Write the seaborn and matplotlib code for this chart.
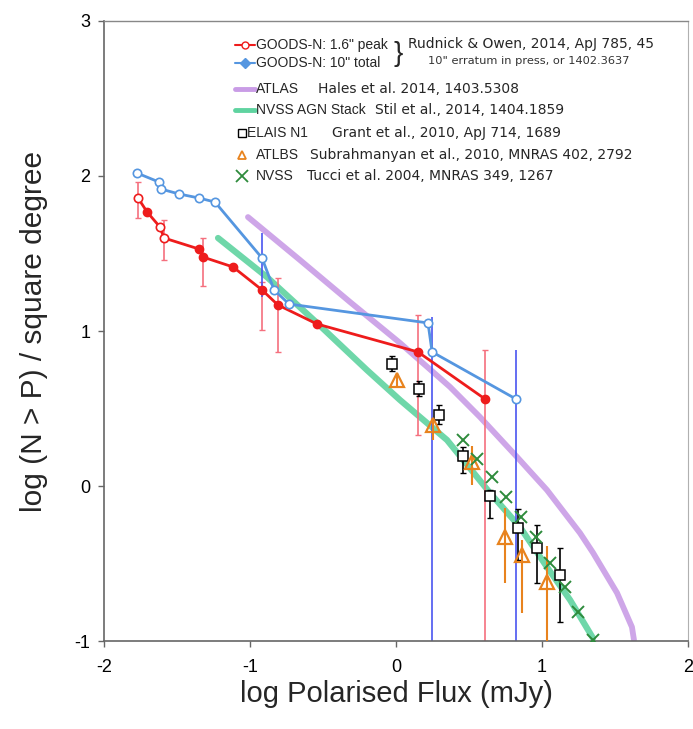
import numpy as np
import pandas as pd
import matplotlib
matplotlib.use("Agg")
import matplotlib.pyplot as plt
import seaborn as sns

sns.set_theme(style="white")
plt.rcParams['font.family'] = ['Liberation Sans', 'DejaVu Sans']

# GOODS-N 1.6" peak (red)
red_x = [-1.767, -1.705, -1.617, -1.589, -1.350, -1.322, -1.116, -0.918, -0.809, -0.541, 0.150, 0.610]
red_y = [1.858, 1.768, 1.671, 1.600, 1.529, 1.477, 1.413, 1.265, 1.168, 1.045, 0.865, 0.561]
red_open = [True, False, True, True, False, False, False, False, False, False, False, False]
red_err_x = [-1.767, -1.589, -1.322, -0.918, -0.809, 0.150, 0.610]
red_err_lo = [1.73, 1.458, 1.29, 1.006, 0.865, 0.329, -1.0]
red_err_hi = [1.96, 1.716, 1.60, 1.316, 1.342, 1.103, 0.877]

# GOODS-N 10" total (blue)
blue_x = [-1.774, -1.623, -1.610, -1.486, -1.350, -1.240, -0.918, -0.835, -0.733, 0.219, 0.247, 0.822]
blue_y = [2.019, 1.961, 1.916, 1.884, 1.858, 1.832, 1.471, 1.265, 1.174, 1.052, 0.865, 0.561]
blue_err_x = [-0.918, 0.247, 0.822]
blue_err_lo = [1.219, -1.0, -1.0]
blue_err_hi = [1.632, 1.09, 0.877]

# ATLAS (Hales et al.)
atlas_x = [-1.014, -0.658, -0.315, 0.027, 0.370, 0.575, 0.829, 1.034, 1.260, 1.349, 1.514, 1.616, 1.630]
atlas_y = [1.735, 1.458, 1.187, 0.923, 0.639, 0.445, 0.187, -0.026, -0.303, -0.430, -0.690, -0.910, -0.994]

# NVSS AGN stack (Stil et al.)
stil_x = [-1.219, -0.884, -0.541, -0.199, 0.027, 0.349, 0.644, 0.849, 1.034, 1.192, 1.349]
stil_y = [1.600, 1.348, 1.052, 0.748, 0.555, 0.297, -0.045, -0.265, -0.523, -0.735, -0.981]

# ELAIS N1 (Grant et al.)
elais_x = [-0.028, 0.157, 0.295, 0.459, 0.644, 0.836, 0.966, 1.123]
elais_y = [0.790, 0.626, 0.458, 0.194, -0.065, -0.271, -0.400, -0.574]
elais_lo = [0.74, 0.58, 0.40, 0.084, -0.206, -0.477, -0.626, -0.877]
elais_hi = [0.84, 0.68, 0.52, 0.252, -0.026, -0.148, -0.250, -0.400]

# ATLBS (Subrahmanyan et al.)
atlbs_x = [0.006, 0.255, 0.520, 0.746, 0.862, 1.034]
atlbs_y = [0.684, 0.394, 0.155, -0.329, -0.445, -0.619]
atlbs_lo = [0.64, 0.297, 0.006, -0.626, -0.819, -1.0]
atlbs_hi = [0.73, 0.430, 0.260, -0.142, -0.348, -0.390]

# NVSS (Tucci et al.)
tucci_x = [0.459, 0.554, 0.658, 0.753, 0.856, 0.959, 1.055, 1.157, 1.247, 1.349]
tucci_y = [0.297, 0.174, 0.058, -0.071, -0.200, -0.329, -0.497, -0.652, -0.813, -0.994]

xticks = [-2, -1, 0, 1, 2]
yticks = [-1, 0, 1, 2, 3]

RED = '#ee1c1c'
PINK = '#f5707e'
BLUE = '#5596e0'
BLUE_ERR = '#4a55f0'
PURPLE = '#c99ce6'
GREEN = '#5fd3a0'
ORANGE = '#e8831e'
XGREEN = '#2e8b3c'

fig = plt.figure(figsize=(6.93, 7.29), dpi=100)
ax = fig.add_axes([0.1501, 0.1207, 0.8427, 0.8505])

# broad model curves
sns.lineplot(x=atlas_x, y=atlas_y, ax=ax, color=PURPLE, lw=4.2, sort=False, estimator=None, alpha=0.9, zorder=1)
sns.lineplot(x=stil_x, y=stil_y, ax=ax, color=GREEN, lw=4.5, sort=False, estimator=None, alpha=0.9, zorder=1)

# error bars
ax.vlines(red_err_x, red_err_lo, red_err_hi, color=PINK, lw=1.2, zorder=2)
ax.hlines(red_err_lo + red_err_hi, np.array(red_err_x * 2) - 0.02, np.array(red_err_x * 2) + 0.02, color=PINK, lw=1.0, zorder=2)
ax.vlines(blue_err_x, blue_err_lo, blue_err_hi, color=BLUE_ERR, lw=1.2, zorder=2)
ax.vlines(elais_x, elais_lo, elais_hi, color='black', lw=1.2, zorder=3)
ax.hlines(elais_lo + elais_hi, np.array(elais_x * 2) - 0.02, np.array(elais_x * 2) + 0.02, color='black', lw=1.0, zorder=3)
ax.vlines(atlbs_x, atlbs_lo, atlbs_hi, color=ORANGE, lw=1.5, zorder=3)

# GOODS-N lines
sns.lineplot(x=blue_x, y=blue_y, ax=ax, color=BLUE, lw=2, sort=False, estimator=None, zorder=4)
ax.plot(blue_x, blue_y, ls='none', marker='o', ms=6, mfc='white', mec=BLUE, mew=1.2, zorder=5)
sns.lineplot(x=red_x, y=red_y, ax=ax, color=RED, lw=2, sort=False, estimator=None, zorder=4)
rx = np.array(red_x); ry = np.array(red_y); ro = np.array(red_open)
ax.plot(rx[ro], ry[ro], ls='none', marker='o', ms=6, mfc='white', mec=RED, mew=1.2, zorder=5)
ax.plot(rx[~ro], ry[~ro], ls='none', marker='o', ms=6, mfc=RED, mec=RED, zorder=5)

# survey points
ax.plot(elais_x, elais_y, ls='none', marker='s', ms=6.5, mfc='white', mec='black', mew=1.1, zorder=6)
ax.plot(atlbs_x, atlbs_y, ls='none', marker='^', ms=10, mfc='none', mec=ORANGE, mew=1.6, zorder=6)
ax.plot(tucci_x, tucci_y, ls='none', marker='x', ms=9, mec=XGREEN, mew=1.4, zorder=7)

ax.set_xlim(-2, 2)
ax.set_ylim(-1, 3)
ax.set_xticks(xticks)
ax.set_yticks(yticks)
ax.set_xticklabels([str(t) for t in xticks])
ax.set_yticklabels([str(t) for t in yticks])
ax.tick_params(axis='both', labelsize=13, colors='black', direction='out', length=4, width=1,
               color='#666666', pad=6, left=True, bottom=True)
ax.tick_params(axis='x', pad=9)
for s in ['left', 'bottom']:
    ax.spines[s].set_color('#666666')
    ax.spines[s].set_linewidth(1.2)
ax.spines['top'].set_color('#888888')
ax.spines['top'].set_linewidth(1.0)
ax.spines['right'].set_color('#b0b0b0')
ax.spines['right'].set_linewidth(0.8)
ax.set_xlabel('log Polarised Flux (mJy)', fontsize=21, labelpad=3)
ax.set_ylabel('log (N > P) / square degree', fontsize=21.5, labelpad=19)

# legend drawn manually
T = ax.transAxes
lx0, lx1, tx = 0.224, 0.259, 0.260
fs = 10
rfs = 10
REF = ['DejaVu Sans']
rows = [0.961, 0.932, 0.890, 0.856, 0.819, 0.784, 0.750]
ax.plot([lx0, lx1], [rows[0]] * 2, transform=T, color=RED, lw=1.5, clip_on=False)
ax.plot([(lx0 + lx1) / 2], [rows[0]], transform=T, marker='o', ms=5, mfc='white', mec=RED, clip_on=False)
ax.text(tx, rows[0], 'GOODS-N: 1.6" peak', transform=T, fontsize=fs, va='center')
ax.plot([lx0, lx1], [rows[1]] * 2, transform=T, color=BLUE, lw=1.5, clip_on=False)
ax.plot([(lx0 + lx1) / 2], [rows[1]], transform=T, marker='D', ms=5, mfc=BLUE, mec=BLUE, clip_on=False)
ax.text(tx, rows[1], 'GOODS-N: 10" total', transform=T, fontsize=fs, va='center')
ax.text(0.495, 0.947, '}', transform=T, fontsize=20, va='center', ha='left')
ax.text(0.521, 0.963, 'Rudnick & Owen, 2014, ApJ 785, 45', transform=T, fontsize=rfs, va='center', family=REF)
ax.text(0.555, 0.935, '10" erratum in press, or 1402.3637', transform=T, fontsize=8.2, va='center',
        color='#333333', family=REF)

ax.plot([lx0, lx1], [rows[2]] * 2, transform=T, color=PURPLE, lw=3.5, clip_on=False)
ax.text(tx, rows[2], 'ATLAS', transform=T, fontsize=fs, va='center')
ax.text(0.366, rows[2], 'Hales et al. 2014, 1403.5308', transform=T, fontsize=rfs, va='center', family=REF)

ax.plot([lx0, lx1], [rows[3]] * 2, transform=T, color=GREEN, lw=3.5, clip_on=False)
ax.text(tx, rows[3], 'NVSS AGN Stack', transform=T, fontsize=fs, va='center')
ax.text(0.464, rows[3], 'Stil et al., 2014, 1404.1859', transform=T, fontsize=rfs, va='center', family=REF)

ax.plot([0.236], [rows[4]], transform=T, marker='s', ms=6, mfc='white', mec='black', clip_on=False)
ax.text(0.245, rows[4], 'ELAIS N1', transform=T, fontsize=fs, va='center')
ax.text(0.390, rows[4], 'Grant et al., 2010, ApJ 714, 1689', transform=T, fontsize=rfs, va='center', family=REF)

ax.plot([0.236], [rows[5]], transform=T, marker='^', ms=6, mfc='none', mec=ORANGE, mew=1.3, clip_on=False)
ax.text(tx, rows[5], 'ATLBS', transform=T, fontsize=fs, va='center')
ax.text(0.353, rows[5], 'Subrahmanyan et al., 2010, MNRAS 402, 2792', transform=T, fontsize=rfs, va='center', family=REF)

ax.plot([0.236], [rows[6]], transform=T, marker='x', ms=8, mec=XGREEN, mew=1.3, clip_on=False)
ax.text(tx, rows[6], 'NVSS', transform=T, fontsize=fs, va='center')
ax.text(0.348, rows[6], 'Tucci et al. 2004, MNRAS 349, 1267', transform=T, fontsize=rfs, va='center', family=REF)

fig.savefig('out.png', dpi=100)
